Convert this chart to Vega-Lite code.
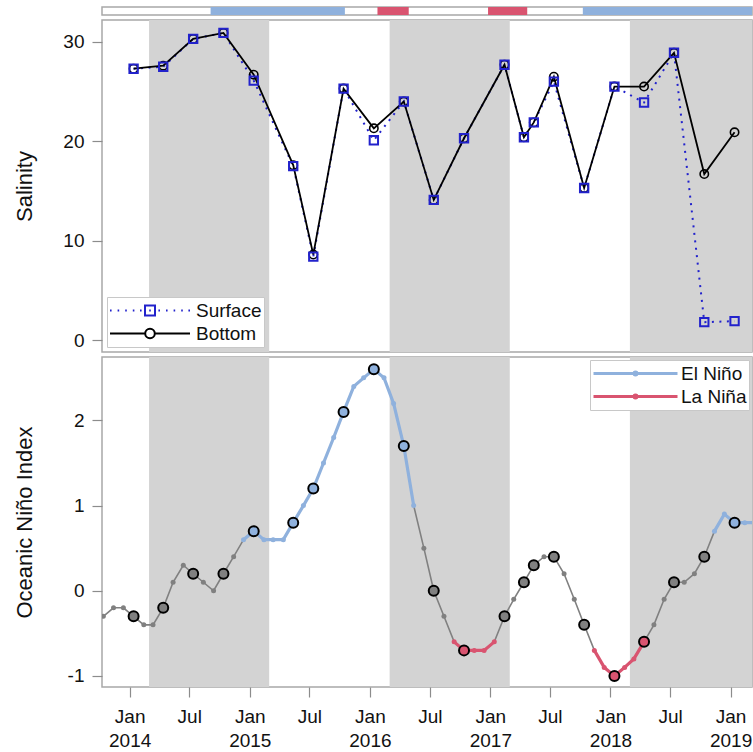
{
  "$schema": "https://vega.github.io/schema/vega-lite/v6.json",
  "padding": {"left": 12, "top": 6, "right": 0, "bottom": 0},
  "background": "white",
  "spacing": 3,
  "resolve": {"scale": {"color": "independent", "shape": "independent"}, "legend": {"color": "independent", "shape": "independent"}},
  "config": {
    "font": "Liberation Sans",
    "view": {"stroke": "#a8a8a8", "strokeWidth": 1.5},
    "axis": {
      "grid": false, "domain": false, "tickColor": "#8c8c8c", "tickWidth": 1.2, "tickSize": 10,
      "labelFontSize": 19, "labelColor": "#111111", "titleFontSize": 22, "titleFontWeight": "normal", "titleColor": "#111111"
    },
    "legend": {"labelFontSize": 19, "labelColor": "#111111"}
  },
  "datasets": {
    "bands": [
      {"start": "2014-03-01", "end": "2015-03-01"},
      {"start": "2016-03-01", "end": "2017-03-01"},
      {"start": "2018-03-01", "end": "2019-06-01"}
    ],
    "strip": [
      {"s": "2014-09-04", "e": "2015-10-17", "c": "el"},
      {"s": "2016-01-24", "e": "2016-04-28", "c": "la"},
      {"s": "2016-12-25", "e": "2017-04-23", "c": "la"},
      {"s": "2017-10-09", "e": "2019-06-01", "c": "el"}
    ],
    "sal": [
      {"d": "2014-01-13", "depth": "Surface", "sal": 27.3}, {"d": "2014-01-13", "depth": "Bottom", "sal": 27.3},
      {"d": "2014-04-13", "depth": "Surface", "sal": 27.5}, {"d": "2014-04-13", "depth": "Bottom", "sal": 27.6},
      {"d": "2014-07-13", "depth": "Surface", "sal": 30.3}, {"d": "2014-07-13", "depth": "Bottom", "sal": 30.3},
      {"d": "2014-10-13", "depth": "Surface", "sal": 30.9}, {"d": "2014-10-13", "depth": "Bottom", "sal": 30.9},
      {"d": "2015-01-13", "depth": "Surface", "sal": 26.1}, {"d": "2015-01-13", "depth": "Bottom", "sal": 26.7},
      {"d": "2015-05-13", "depth": "Surface", "sal": 17.5}, {"d": "2015-05-13", "depth": "Bottom", "sal": 17.6},
      {"d": "2015-07-13", "depth": "Surface", "sal": 8.4}, {"d": "2015-07-13", "depth": "Bottom", "sal": 8.6},
      {"d": "2015-10-13", "depth": "Surface", "sal": 25.3}, {"d": "2015-10-13", "depth": "Bottom", "sal": 25.3},
      {"d": "2016-01-13", "depth": "Surface", "sal": 20.1}, {"d": "2016-01-13", "depth": "Bottom", "sal": 21.3},
      {"d": "2016-04-13", "depth": "Surface", "sal": 24.0}, {"d": "2016-04-13", "depth": "Bottom", "sal": 24.0},
      {"d": "2016-07-13", "depth": "Surface", "sal": 14.1}, {"d": "2016-07-13", "depth": "Bottom", "sal": 14.1},
      {"d": "2016-10-13", "depth": "Surface", "sal": 20.3}, {"d": "2016-10-13", "depth": "Bottom", "sal": 20.3},
      {"d": "2017-02-13", "depth": "Surface", "sal": 27.7}, {"d": "2017-02-13", "depth": "Bottom", "sal": 27.7},
      {"d": "2017-04-13", "depth": "Surface", "sal": 20.4}, {"d": "2017-04-13", "depth": "Bottom", "sal": 20.4},
      {"d": "2017-05-13", "depth": "Surface", "sal": 21.9}, {"d": "2017-05-13", "depth": "Bottom", "sal": 21.9},
      {"d": "2017-07-13", "depth": "Surface", "sal": 26.0}, {"d": "2017-07-13", "depth": "Bottom", "sal": 26.5},
      {"d": "2017-10-13", "depth": "Surface", "sal": 15.3}, {"d": "2017-10-13", "depth": "Bottom", "sal": 15.3},
      {"d": "2018-01-13", "depth": "Surface", "sal": 25.5}, {"d": "2018-01-13", "depth": "Bottom", "sal": 25.5},
      {"d": "2018-04-13", "depth": "Surface", "sal": 23.9}, {"d": "2018-04-13", "depth": "Bottom", "sal": 25.5},
      {"d": "2018-07-13", "depth": "Surface", "sal": 28.9}, {"d": "2018-07-13", "depth": "Bottom", "sal": 28.9},
      {"d": "2018-10-13", "depth": "Surface", "sal": 1.8}, {"d": "2018-10-13", "depth": "Bottom", "sal": 16.7},
      {"d": "2019-01-13", "depth": "Surface", "sal": 1.9}, {"d": "2019-01-13", "depth": "Bottom", "sal": 20.9}
    ],
    "oni": [
      {"d": "2013-10-13", "v": -0.3, "p": "Neutral", "e": null, "s": 0},
      {"d": "2013-11-13", "v": -0.2, "p": "Neutral", "e": null, "s": 0},
      {"d": "2013-12-13", "v": -0.2, "p": "Neutral", "e": null, "s": 0},
      {"d": "2014-01-13", "v": -0.3, "p": "Neutral", "e": null, "s": 1},
      {"d": "2014-02-13", "v": -0.4, "p": "Neutral", "e": null, "s": 0},
      {"d": "2014-03-13", "v": -0.4, "p": "Neutral", "e": null, "s": 0},
      {"d": "2014-04-13", "v": -0.2, "p": "Neutral", "e": null, "s": 1},
      {"d": "2014-05-13", "v": 0.1, "p": "Neutral", "e": null, "s": 0},
      {"d": "2014-06-13", "v": 0.3, "p": "Neutral", "e": null, "s": 0},
      {"d": "2014-07-13", "v": 0.2, "p": "Neutral", "e": null, "s": 1},
      {"d": "2014-08-13", "v": 0.1, "p": "Neutral", "e": null, "s": 0},
      {"d": "2014-09-13", "v": 0.0, "p": "Neutral", "e": null, "s": 0},
      {"d": "2014-10-13", "v": 0.2, "p": "Neutral", "e": null, "s": 1},
      {"d": "2014-11-13", "v": 0.4, "p": "Neutral", "e": null, "s": 0},
      {"d": "2014-12-13", "v": 0.6, "p": "El Niño", "e": "EN1", "s": 0},
      {"d": "2015-01-13", "v": 0.7, "p": "El Niño", "e": "EN1", "s": 1},
      {"d": "2015-02-13", "v": 0.6, "p": "El Niño", "e": "EN1", "s": 0},
      {"d": "2015-03-13", "v": 0.6, "p": "El Niño", "e": "EN1", "s": 0},
      {"d": "2015-04-13", "v": 0.6, "p": "El Niño", "e": "EN1", "s": 0},
      {"d": "2015-05-13", "v": 0.8, "p": "El Niño", "e": "EN1", "s": 1},
      {"d": "2015-06-13", "v": 1.0, "p": "El Niño", "e": "EN1", "s": 0},
      {"d": "2015-07-13", "v": 1.2, "p": "El Niño", "e": "EN1", "s": 1},
      {"d": "2015-08-13", "v": 1.5, "p": "El Niño", "e": "EN1", "s": 0},
      {"d": "2015-09-13", "v": 1.8, "p": "El Niño", "e": "EN1", "s": 0},
      {"d": "2015-10-13", "v": 2.1, "p": "El Niño", "e": "EN1", "s": 1},
      {"d": "2015-11-13", "v": 2.4, "p": "El Niño", "e": "EN1", "s": 0},
      {"d": "2015-12-13", "v": 2.5, "p": "El Niño", "e": "EN1", "s": 0},
      {"d": "2016-01-13", "v": 2.6, "p": "El Niño", "e": "EN1", "s": 1},
      {"d": "2016-02-13", "v": 2.5, "p": "El Niño", "e": "EN1", "s": 0},
      {"d": "2016-03-13", "v": 2.2, "p": "El Niño", "e": "EN1", "s": 0},
      {"d": "2016-04-13", "v": 1.7, "p": "El Niño", "e": "EN1", "s": 1},
      {"d": "2016-05-13", "v": 1.0, "p": "El Niño", "e": "EN1", "s": 0},
      {"d": "2016-06-13", "v": 0.5, "p": "Neutral", "e": null, "s": 0},
      {"d": "2016-07-13", "v": 0.0, "p": "Neutral", "e": null, "s": 1},
      {"d": "2016-08-13", "v": -0.3, "p": "Neutral", "e": null, "s": 0},
      {"d": "2016-09-13", "v": -0.6, "p": "La Niña", "e": "LN1", "s": 0},
      {"d": "2016-10-13", "v": -0.7, "p": "La Niña", "e": "LN1", "s": 1},
      {"d": "2016-11-13", "v": -0.7, "p": "La Niña", "e": "LN1", "s": 0},
      {"d": "2016-12-13", "v": -0.7, "p": "La Niña", "e": "LN1", "s": 0},
      {"d": "2017-01-13", "v": -0.6, "p": "La Niña", "e": "LN1", "s": 0},
      {"d": "2017-02-13", "v": -0.3, "p": "Neutral", "e": null, "s": 1},
      {"d": "2017-03-13", "v": -0.1, "p": "Neutral", "e": null, "s": 0},
      {"d": "2017-04-13", "v": 0.1, "p": "Neutral", "e": null, "s": 1},
      {"d": "2017-05-13", "v": 0.3, "p": "Neutral", "e": null, "s": 1},
      {"d": "2017-06-13", "v": 0.4, "p": "Neutral", "e": null, "s": 0},
      {"d": "2017-07-13", "v": 0.4, "p": "Neutral", "e": null, "s": 1},
      {"d": "2017-08-13", "v": 0.2, "p": "Neutral", "e": null, "s": 0},
      {"d": "2017-09-13", "v": -0.1, "p": "Neutral", "e": null, "s": 0},
      {"d": "2017-10-13", "v": -0.4, "p": "Neutral", "e": null, "s": 1},
      {"d": "2017-11-13", "v": -0.7, "p": "La Niña", "e": "LN2", "s": 0},
      {"d": "2017-12-13", "v": -0.9, "p": "La Niña", "e": "LN2", "s": 0},
      {"d": "2018-01-13", "v": -1.0, "p": "La Niña", "e": "LN2", "s": 1},
      {"d": "2018-02-13", "v": -0.9, "p": "La Niña", "e": "LN2", "s": 0},
      {"d": "2018-03-13", "v": -0.8, "p": "La Niña", "e": "LN2", "s": 0},
      {"d": "2018-04-13", "v": -0.6, "p": "La Niña", "e": "LN2", "s": 1},
      {"d": "2018-05-13", "v": -0.4, "p": "Neutral", "e": null, "s": 0},
      {"d": "2018-06-13", "v": -0.1, "p": "Neutral", "e": null, "s": 0},
      {"d": "2018-07-13", "v": 0.1, "p": "Neutral", "e": null, "s": 1},
      {"d": "2018-08-13", "v": 0.1, "p": "Neutral", "e": null, "s": 0},
      {"d": "2018-09-13", "v": 0.2, "p": "Neutral", "e": null, "s": 0},
      {"d": "2018-10-13", "v": 0.4, "p": "Neutral", "e": null, "s": 1},
      {"d": "2018-11-13", "v": 0.7, "p": "El Niño", "e": "EN2", "s": 0},
      {"d": "2018-12-13", "v": 0.9, "p": "El Niño", "e": "EN2", "s": 0},
      {"d": "2019-01-13", "v": 0.8, "p": "El Niño", "e": "EN2", "s": 1},
      {"d": "2019-02-13", "v": 0.8, "p": "El Niño", "e": "EN2", "s": 0},
      {"d": "2019-03-13", "v": 0.8, "p": "El Niño", "e": "EN2", "s": 0}
    ]
  },
  "vconcat": [
    {
      "width": 650, "height": 8,
      "data": {"name": "strip"},
      "mark": {"type": "rect", "clip": true},
      "encoding": {
        "x": {"field": "s", "type": "temporal", "scale": {"domain": [{"year": 2013, "month": 10, "date": 9}, {"year": 2019, "month": 3, "date": 7}], "nice": false}, "axis": null},
        "x2": {"field": "e"},
        "color": {"field": "c", "type": "nominal", "scale": {"domain": ["el", "la"], "range": ["#8fb1dd", "#d95470"]}, "legend": null}
      }
    },
    {
      "width": 650, "height": 332,
      "layer": [
        {
          "data": {"name": "bands"},
          "mark": {"type": "rect", "color": "#d3d3d3", "clip": true},
          "encoding": {
            "x": {"field": "start", "type": "temporal", "scale": {"domain": [{"year": 2013, "month": 10, "date": 9}, {"year": 2019, "month": 3, "date": 7}], "nice": false}, "axis": null},
            "x2": {"field": "end"}
          }
        },
        {
          "data": {"name": "sal"},
          "transform": [{"filter": "datum.depth === 'Surface'"}],
          "mark": {"type": "line", "color": "#2222cc", "strokeWidth": 2, "strokeDash": [2, 5.5]},
          "encoding": {
            "x": {"field": "d", "type": "temporal"},
            "y": {"field": "sal", "type": "quantitative", "scale": {"domain": [-1.2, 32.2], "nice": false, "zero": false},
                  "axis": {"title": "Salinity", "values": [0, 10, 20, 30], "minExtent": 58, "maxExtent": 58, "titlePadding": 8, "labelPadding": 8}}
          }
        },
        {
          "data": {"name": "sal"},
          "transform": [{"filter": "datum.depth === 'Bottom'"}],
          "mark": {"type": "line", "color": "#000000", "strokeWidth": 1.8},
          "encoding": {"x": {"field": "d", "type": "temporal"}, "y": {"field": "sal", "type": "quantitative"}}
        },
        {
          "data": {"name": "sal"},
          "transform": [{"filter": "datum.depth === 'Bottom'"}],
          "mark": {"type": "point", "shape": "circle", "filled": false, "color": "#000000", "size": 70, "strokeWidth": 1.6, "opacity": 1},
          "encoding": {"x": {"field": "d", "type": "temporal"}, "y": {"field": "sal", "type": "quantitative"}}
        },
        {
          "data": {"name": "sal"},
          "transform": [{"filter": "datum.depth === 'Surface'"}],
          "mark": {"type": "point", "shape": "square", "filled": false, "color": "#2222cc", "size": 70, "strokeWidth": 2, "opacity": 1},
          "encoding": {"x": {"field": "d", "type": "temporal"}, "y": {"field": "sal", "type": "quantitative"}}
        },
        {
          "data": {"name": "sal"},
          "mark": {"type": "point", "filled": false, "opacity": 0, "size": 6400},
          "encoding": {
            "x": {"field": "d", "type": "temporal"},
            "y": {"field": "sal", "type": "quantitative"},
            "color": {"field": "depth", "type": "nominal", "scale": {"domain": ["Surface", "Bottom"], "range": ["#2222cc", "#000000"]},
              "legend": {"title": null, "orient": "bottom-left", "offset": 5, "fillColor": "white", "strokeColor": "#c8c8c8", "padding": 2, "symbolSize": 6400, "symbolStrokeWidth": 2, "symbolOpacity": 1, "labelFontSize": 19, "labelOffset": 5, "clipHeight": 23, "rowPadding": 0}},
            "shape": {"field": "depth", "type": "nominal", "scale": {"domain": ["Surface", "Bottom"], "range": [
              "M-1,0h0.04M-0.81,0h0.04M-0.62,0h0.04M-0.43,0h0.04M-0.25,0h0.04M0.21,0h0.04M0.4,0h0.04M0.59,0h0.04M0.78,0h0.04M0.96,0h0.04M-0.02,0h0.04M-0.125,-0.125h0.25v0.25h-0.25z",
              "M-1,0H-0.12M0.12,0H1M0.12,0A0.12,0.12 0 1,1 -0.12,0A0.12,0.12 0 1,1 0.12,0"
            ]},
              "legend": {"title": null, "orient": "bottom-left", "offset": 5, "fillColor": "white", "strokeColor": "#c8c8c8", "padding": 2, "symbolSize": 6400, "symbolStrokeWidth": 2, "symbolOpacity": 1, "labelFontSize": 19, "labelOffset": 5, "clipHeight": 23, "rowPadding": 0}}
          }
        },
        {
          "mark": {"type": "text", "text": "A", "fontSize": 21, "align": "center", "baseline": "middle", "color": "#111111"},
          "encoding": {
            "x": {"datum": {"year": 2013, "month": 11, "date": 21}, "type": "temporal"},
            "y": {"datum": 30.5, "type": "quantitative"}
          }
        }
      ]
    },
    {
      "width": 650, "height": 330,
      "layer": [
        {
          "data": {"name": "bands"},
          "mark": {"type": "rect", "color": "#d3d3d3", "clip": true},
          "encoding": {
            "x": {"field": "start", "type": "temporal", "scale": {"domain": [{"year": 2013, "month": 10, "date": 9}, {"year": 2019, "month": 3, "date": 7}], "nice": false},
                  "axis": {"title": null, "tickCount": {"interval": "month", "step": 6}, "labelExpr": "month(datum.value) === 0 ? ['Jan', '' + year(datum.value)] : 'Jul'", "labelLineHeight": 24, "labelPadding": 10, "labelFlush": false, "labelOverlap": false, "labelAlign": "center", "labelBaseline": "top"}},
            "x2": {"field": "end"}
          }
        },
        {
          "data": {"name": "oni"},
          "mark": {"type": "line", "color": "#808080", "strokeWidth": 1.6, "clip": true},
          "encoding": {
            "x": {"field": "d", "type": "temporal"},
            "y": {"field": "v", "type": "quantitative", "scale": {"domain": [-1.13, 2.745], "nice": false, "zero": false},
                  "axis": {"title": "Oceanic Niño Index", "values": [-1, 0, 1, 2], "labelExpr": "'' + datum.value", "minExtent": 58, "maxExtent": 58, "titlePadding": 8, "labelPadding": 8}}
          }
        },
        {
          "data": {"name": "oni"},
          "transform": [{"filter": "datum.e != null"}],
          "mark": {"type": "line", "strokeWidth": 3.2, "clip": true},
          "encoding": {
            "x": {"field": "d", "type": "temporal"},
            "y": {"field": "v", "type": "quantitative"},
            "detail": {"field": "e", "type": "nominal"},
            "color": {"field": "p", "type": "nominal", "scale": {"domain": ["El Niño", "La Niña", "Neutral"], "range": ["#8fb1dd", "#d95470", "#808080"]},
              "legend": {"title": null, "values": ["El Niño", "La Niña"], "orient": "top-right", "offset": 3, "fillColor": "white", "strokeColor": "#c8c8c8", "padding": 2, "symbolType": "M-1,0H1M0.036,0A0.036,0.036 0 1,1 -0.036,0A0.036,0.036 0 1,1 0.036,0", "symbolSize": 7056, "symbolStrokeWidth": 3, "symbolOpacity": 1, "labelFontSize": 19, "labelOffset": 2, "clipHeight": 23, "rowPadding": 0}}
          }
        },
        {
          "data": {"name": "oni"},
          "mark": {"type": "point", "filled": true, "size": 25, "opacity": 1, "clip": true},
          "encoding": {
            "x": {"field": "d", "type": "temporal"},
            "y": {"field": "v", "type": "quantitative"},
            "color": {"field": "p", "type": "nominal", "legend": null}
          }
        },
        {
          "data": {"name": "oni"},
          "transform": [{"filter": "datum.s === 1"}],
          "mark": {"type": "point", "filled": true, "size": 100, "stroke": "#000000", "strokeWidth": 2, "opacity": 1, "clip": true},
          "encoding": {
            "x": {"field": "d", "type": "temporal"},
            "y": {"field": "v", "type": "quantitative"},
            "color": {"field": "p", "type": "nominal", "legend": null}
          }
        },
        {
          "mark": {"type": "text", "text": "B", "fontSize": 21, "align": "center", "baseline": "middle", "color": "#111111"},
          "encoding": {
            "x": {"datum": {"year": 2013, "month": 11, "date": 21}, "type": "temporal"},
            "y": {"datum": 2.55, "type": "quantitative"}
          }
        }
      ]
    }
  ]
}
